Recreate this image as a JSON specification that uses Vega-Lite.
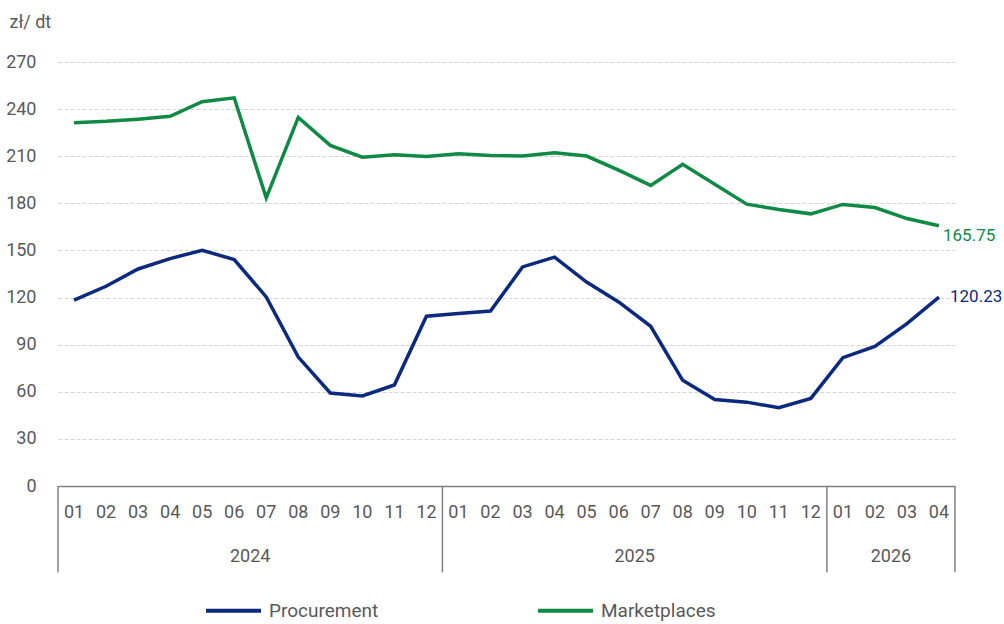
{
  "$schema": "https://vega.github.io/schema/vega-lite/v6.json",
  "autosize": {"type": "none"},
  "padding": {"left": 58, "top": 62, "right": 49, "bottom": 138},
  "width": 897,
  "height": 424,
  "config": {
    "font": "Roboto",
    "view": {"stroke": null},
    "axis": {"labelFont": "Roboto", "titleFont": "Roboto"}
  },
  "datasets": {
    "prices": [
      {"i": 0, "year": "2024", "month": "01", "Procurement": 118.3, "Marketplaces": 231.3},
      {"i": 1, "year": "2024", "month": "02", "Procurement": 127.2, "Marketplaces": 232.2},
      {"i": 2, "year": "2024", "month": "03", "Procurement": 138.2, "Marketplaces": 233.6},
      {"i": 3, "year": "2024", "month": "04", "Procurement": 144.8, "Marketplaces": 235.4},
      {"i": 4, "year": "2024", "month": "05", "Procurement": 150.1, "Marketplaces": 244.7},
      {"i": 5, "year": "2024", "month": "06", "Procurement": 144.2, "Marketplaces": 247.2},
      {"i": 6, "year": "2024", "month": "07", "Procurement": 120.4, "Marketplaces": 183.5},
      {"i": 7, "year": "2024", "month": "08", "Procurement": 82.1, "Marketplaces": 234.7},
      {"i": 8, "year": "2024", "month": "09", "Procurement": 59.2, "Marketplaces": 216.9},
      {"i": 9, "year": "2024", "month": "10", "Procurement": 57.3, "Marketplaces": 209.4},
      {"i": 10, "year": "2024", "month": "11", "Procurement": 64.3, "Marketplaces": 210.9},
      {"i": 11, "year": "2024", "month": "12", "Procurement": 108.1, "Marketplaces": 209.9},
      {"i": 12, "year": "2025", "month": "01", "Procurement": 109.8, "Marketplaces": 211.5},
      {"i": 13, "year": "2025", "month": "02", "Procurement": 111.4, "Marketplaces": 210.5},
      {"i": 14, "year": "2025", "month": "03", "Procurement": 139.5, "Marketplaces": 210.1},
      {"i": 15, "year": "2025", "month": "04", "Procurement": 145.7, "Marketplaces": 212.2},
      {"i": 16, "year": "2025", "month": "05", "Procurement": 129.9, "Marketplaces": 210.1},
      {"i": 17, "year": "2025", "month": "06", "Procurement": 117.2, "Marketplaces": 201.1},
      {"i": 18, "year": "2025", "month": "07", "Procurement": 101.7, "Marketplaces": 191.4},
      {"i": 19, "year": "2025", "month": "08", "Procurement": 67.3, "Marketplaces": 204.8},
      {"i": 20, "year": "2025", "month": "09", "Procurement": 55.1, "Marketplaces": 192.1},
      {"i": 21, "year": "2025", "month": "10", "Procurement": 53.4, "Marketplaces": 179.5},
      {"i": 22, "year": "2025", "month": "11", "Procurement": 49.8, "Marketplaces": 176.1},
      {"i": 23, "year": "2025", "month": "12", "Procurement": 55.8, "Marketplaces": 173.3},
      {"i": 24, "year": "2026", "month": "01", "Procurement": 81.7, "Marketplaces": 179.3},
      {"i": 25, "year": "2026", "month": "02", "Procurement": 88.9, "Marketplaces": 177.3},
      {"i": 26, "year": "2026", "month": "03", "Procurement": 103.4, "Marketplaces": 170.3},
      {"i": 27, "year": "2026", "month": "04", "Procurement": 120.23, "Marketplaces": 165.75}
    ],
    "years": [
      {"year": "2024", "mid": 5.5},
      {"year": "2025", "mid": 17.5},
      {"year": "2026", "mid": 25.5}
    ],
    "bounds": [
      {"b": -0.5},
      {"b": 11.5},
      {"b": 23.5},
      {"b": 27.5}
    ]
  },
  "layer": [
    {
      "data": {"name": "prices"},
      "transform": [{"fold": ["Procurement", "Marketplaces"], "as": ["series", "value"]}],
      "mark": {"type": "line", "strokeWidth": 3.5, "strokeJoin": "miter"},
      "encoding": {
        "x": {
          "field": "i", "type": "quantitative",
          "scale": {"domain": [-0.5, 27.5], "nice": false, "zero": false},
          "axis": {
            "title": null,
            "labels": false,
            "ticks": false,
            "grid": false,
            "domainColor": "#808080",
            "domainWidth": 1.5
          }
        },
        "y": {
          "field": "value", "type": "quantitative",
          "scale": {"domain": [0, 270], "nice": false, "zero": true},
          "axis": {
            "title": "zł/ dt",
            "titleAngle": 0,
            "titleAlign": "left",
            "titleBaseline": "middle",
            "titleX": -49,
            "titleY": -40,
            "titleColor": "#595959",
            "titleFontSize": 18,
            "titleFontWeight": "normal",
            "values": [0, 30, 60, 90, 120, 150, 180, 210, 240, 270],
            "ticks": false,
            "domain": false,
            "labelPadding": 22,
            "labelColor": "#595959",
            "labelFontSize": 18,
            "gridColor": "#d4d4d4",
            "gridDash": [4, 2],
            "gridWidth": 1
          }
        },
        "color": {
          "field": "series", "type": "nominal",
          "scale": {"domain": ["Procurement", "Marketplaces"], "range": ["#0b2a7e", "#0f8a45"]},
          "legend": {
            "title": null,
            "orient": "none",
            "direction": "horizontal",
            "legendX": 146,
            "legendY": 519,
            "symbolType": "stroke",
            "symbolSize": 3025,
            "symbolStrokeWidth": 4,
            "labelFontSize": 19,
            "labelColor": "#595959",
            "labelOffset": 6,
            "columnPadding": 151
          }
        }
      }
    },
    {
      "data": {"name": "prices"},
      "mark": {"type": "text", "fontSize": 18, "color": "#595959", "baseline": "middle"},
      "encoding": {
        "x": {"field": "i", "type": "quantitative"},
        "y": {"datum": -17.2},
        "text": {"field": "month"}
      }
    },
    {
      "data": {"name": "bounds"},
      "mark": {"type": "rule", "color": "#808080", "strokeWidth": 1.5},
      "encoding": {
        "x": {"field": "b", "type": "quantitative"},
        "y": {"datum": 0},
        "y2": {"datum": -55}
      }
    },
    {
      "data": {"name": "years"},
      "mark": {"type": "text", "fontSize": 18, "color": "#595959", "baseline": "middle"},
      "encoding": {
        "x": {"field": "mid", "type": "quantitative"},
        "y": {"datum": -45},
        "text": {"field": "year"}
      }
    },
    {
      "data": {"name": "prices"},
      "transform": [{"filter": "datum.i == 27"}],
      "mark": {"type": "text", "fontSize": 17, "align": "left", "baseline": "middle", "dx": 4, "dy": 10, "color": "#0f8a45"},
      "encoding": {
        "x": {"field": "i", "type": "quantitative"},
        "y": {"field": "Marketplaces", "type": "quantitative"},
        "text": {"field": "Marketplaces", "type": "quantitative", "format": ".2f"}
      }
    },
    {
      "data": {"name": "prices"},
      "transform": [{"filter": "datum.i == 27"}],
      "mark": {"type": "text", "fontSize": 17, "align": "left", "baseline": "middle", "dx": 11, "dy": 0, "color": "#0b2a7e"},
      "encoding": {
        "x": {"field": "i", "type": "quantitative"},
        "y": {"field": "Procurement", "type": "quantitative"},
        "text": {"field": "Procurement", "type": "quantitative", "format": ".2f"}
      }
    }
  ]
}
